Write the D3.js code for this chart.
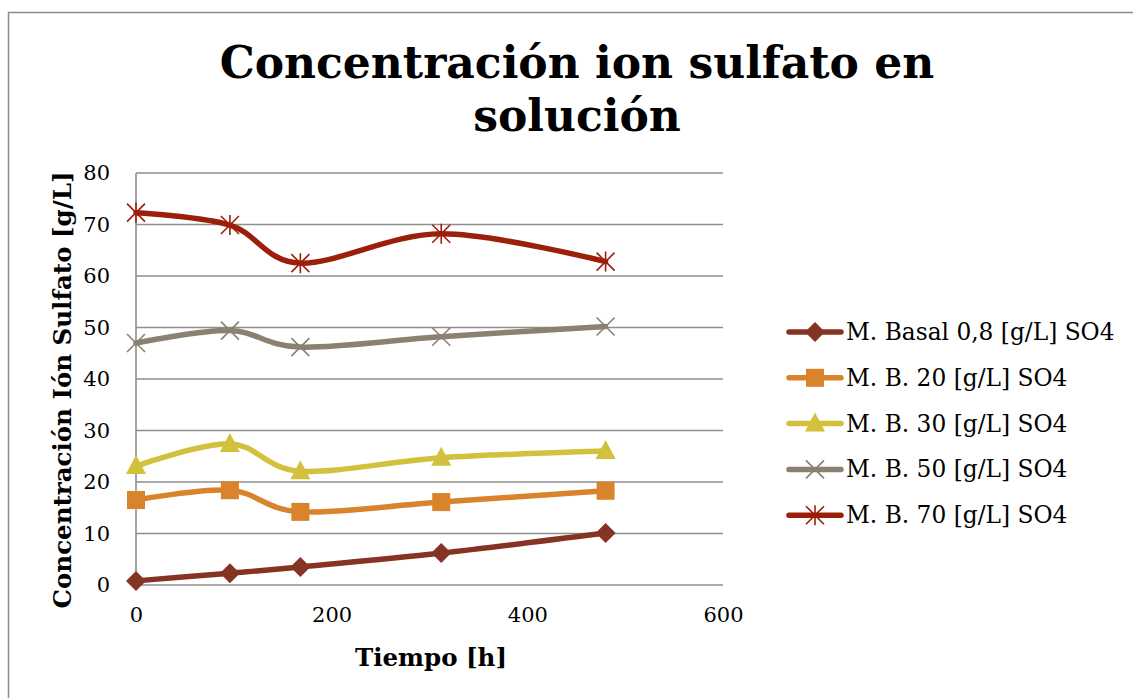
<!DOCTYPE html>
<html>
<head>
<meta charset="utf-8">
<script src="https://cdn.jsdelivr.net/npm/d3@7"></script>
<style>
  body { margin: 0; background: #fff; }
  text { font-family: "DejaVu Serif", "Liberation Serif", serif; fill: #000; }
</style>
</head>
<body>
<div id="chart"></div>
<script>
// data
var hours = [0, 96, 168, 312, 480];
var basal = [0.8, 2.3, 3.5, 6.2, 10.1];
var mb20 = [16.5, 18.4, 14.2, 16.1, 18.3];
var mb30 = [23.1, 27.4, 22.1, 24.7, 26.0];
var mb50 = [47.0, 49.4, 46.2, 48.2, 50.2];
var mb70 = [72.3, 69.9, 62.5, 68.2, 62.8];
var seriesNames = ["M. Basal 0,8 [g/L] SO4", "M. B. 20 [g/L] SO4", "M. B. 30 [g/L] SO4", "M. B. 50 [g/L] SO4", "M. B. 70 [g/L] SO4"];
var xTicks = [0, 200, 400, 600];
var yTicks = [0, 10, 20, 30, 40, 50, 60, 70, 80];

var colors = ["#853423", "#d9842c", "#d3c03c", "#8a8170", "#9b1f0b"];
var markers = ["diamond", "square", "triangle", "x", "star"];
var allValues = [basal, mb20, mb30, mb50, mb70];

var width = 1133, height = 698;
var margin = {top: 173, left: 136};
var plotW = 587, plotH = 412;

var svg = d3.select("#chart").append("svg")
  .attr("width", width)
  .attr("height", height);

// outer border of the chart area (runs off right/bottom)
svg.append("rect")
  .attr("x", 8.5).attr("y", 12.5)
  .attr("width", 1300).attr("height", 900)
  .attr("fill", "none").attr("stroke", "#8c8c8c").attr("stroke-width", 1.5);

// title
var title = svg.append("text")
  .attr("text-anchor", "middle")
  .attr("font-weight", "bold")
  .attr("font-size", "44px");
title.append("tspan").attr("x", 577).attr("y", 78).text("Concentración ion sulfato en");
title.append("tspan").attr("x", 577).attr("y", 131).text("solución");

var g = svg.append("g").attr("transform", `translate(${margin.left}, ${margin.top})`);

var x = d3.scaleLinear().domain([0, 600]).range([0, plotW]);
var y = d3.scaleLinear().domain([0, 80]).range([plotH, 0]);

// gridlines
g.selectAll("line.grid")
  .data(yTicks)
  .enter()
  .append("line")
  .attr("class", "grid")
  .attr("x1", 0).attr("x2", plotW)
  .attr("y1", d => y(d)).attr("y2", d => y(d))
  .attr("stroke", "#8e8e8e").attr("stroke-width", 1.6);

// y axis line
g.append("line")
  .attr("x1", 0).attr("x2", 0).attr("y1", 0).attr("y2", plotH)
  .attr("stroke", "#8e8e8e").attr("stroke-width", 1.6);

// tick labels
var leftAxis = d3.axisLeft(y).tickValues(yTicks).tickSize(0).tickPadding(26);
var yAxisG = g.append("g").call(leftAxis);
yAxisG.select(".domain").remove();
yAxisG.selectAll("text").attr("font-size", "21px").attr("font-family", "DejaVu Serif");

var bottomAxis = d3.axisBottom(x).tickValues(xTicks).tickSize(0).tickPadding(22);
var xAxisG = g.append("g").attr("transform", `translate(0, ${plotH})`).call(bottomAxis);
xAxisG.select(".domain").remove();
xAxisG.selectAll("text").attr("font-size", "21px").attr("font-family", "DejaVu Serif");

// axis titles
svg.append("text")
  .attr("x", 431).attr("y", 666)
  .attr("text-anchor", "middle")
  .attr("font-weight", "bold")
  .attr("font-size", "24.5px")
  .text("Tiempo [h]");

svg.append("text")
  .attr("transform", "translate(71, 390) rotate(-90)")
  .attr("text-anchor", "middle")
  .attr("font-weight", "bold")
  .attr("font-size", "24.5px")
  .text("Concentración Ión Sulfato [g/L]");

// marker drawing
function drawMarker(sel, type, color) {
  if (type === "diamond") {
    sel.append("path").attr("d", "M0,-10L10,0L0,10L-10,0Z").attr("fill", color);
  } else if (type === "square") {
    sel.append("rect").attr("x", -9).attr("y", -9).attr("width", 18).attr("height", 18).attr("fill", color);
  } else if (type === "triangle") {
    sel.append("path").attr("d", "M0,-11L10,8L-10,8Z").attr("fill", color);
  } else if (type === "x") {
    sel.append("path").attr("d", "M-9,-9L9,9M-9,9L9,-9").attr("stroke", color).attr("stroke-width", 1.6).attr("fill", "none");
  } else {
    sel.append("path").attr("d", "M-9,-9L9,9M-9,9L9,-9M0,-10L0,10").attr("stroke", color).attr("stroke-width", 1.6).attr("fill", "none");
  }
}

var line = d3.line()
  .x((d, i) => x(hours[i]))
  .y(d => y(d))
  .curve(d3.curveCardinal.tension(0));

allValues.forEach(function(vals, s) {
  g.append("path")
    .datum(vals)
    .attr("d", line)
    .attr("fill", "none")
    .attr("stroke", colors[s])
    .attr("stroke-width", 5.5)
    .attr("stroke-linecap", "round");

  g.selectAll(null)
    .data(vals)
    .enter()
    .append("g")
    .attr("transform", (d, i) => `translate(${x(hours[i])}, ${y(d)})`)
    .each(function() { drawMarker(d3.select(this), markers[s], colors[s]); });
});

// legend
var legend = svg.append("g").attr("transform", "translate(787, 332)");
seriesNames.forEach(function(name, s) {
  var row = legend.append("g").attr("transform", `translate(0, ${s * 45.8})`);
  row.append("line")
    .attr("x1", 2).attr("x2", 54).attr("y1", 0).attr("y2", 0)
    .attr("stroke", colors[s]).attr("stroke-width", 5.5).attr("stroke-linecap", "round");
  var m = row.append("g").attr("transform", "translate(28, 0)");
  drawMarker(m, markers[s], colors[s]);
  row.append("text")
    .attr("x", 59).attr("y", 8)
    .attr("font-size", "23.3px")
    .text(name);
});
</script>
</body>
</html>
